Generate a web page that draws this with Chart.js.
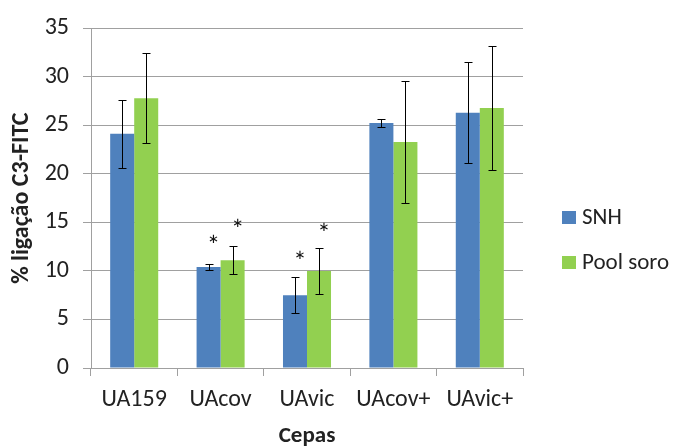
<!DOCTYPE html>
<html>
<head>
<meta charset="utf-8">
<script src="https://cdn.jsdelivr.net/npm/chart.js@4/dist/chart.umd.min.js"></script>
<style>
  html, body { margin: 0; padding: 0; background: #fff; }
  #wrap { width: 676px; height: 447px; position: relative; }
</style>
</head>
<body>
<div id="wrap"><canvas id="c" width="676" height="447"></canvas></div>
<script>
const categories = ['UA159', 'UAcov', 'UAvic', 'UAcov+', 'UAvic+'];
const seriesNames = ['SNH', 'Pool soro'];
const snhValues = [24.15, 10.4, 7.5, 25.25, 26.3];
const snhErrors = [3.5, 0.3, 1.85, 0.4, 5.2];
const poolValues = [27.8, 11.1, 10.0, 23.3, 26.8];
const poolErrors = [4.65, 1.45, 2.4, 6.3, 6.35];
// significance asterisks: y value where each asterisk sits (null = none)
const snhStars = [null, 13.1, 11.4, null, null];
const poolStars = [null, 14.7, 14.3, null, null];
const yTicks = [0, 5, 10, 15, 20, 25, 30, 35];
const colors = ['#4F81BD', '#92D050'];
const FONT = 'Carlito, Calibri, "Open Sans", "DejaVu Sans", sans-serif';

const errors = [snhErrors, poolErrors];
const stars = [snhStars, poolStars];

const overlayPlugin = {
  id: 'overlay',
  afterDatasetsDraw(chart) {
    const ctx = chart.ctx;
    const yScale = chart.scales.y;
    ctx.save();
    chart.data.datasets.forEach((ds, di) => {
      const meta = chart.getDatasetMeta(di);
      meta.data.forEach((bar, i) => {
        const v = ds.data[i];
        const e = errors[di][i];
        const x = Math.round(bar.x) + 0.5;
        const yTop = Math.round(yScale.getPixelForValue(v + e)) + 0.5;
        const yBot = Math.round(yScale.getPixelForValue(v - e)) + 0.5;
        ctx.strokeStyle = '#000';
        ctx.lineWidth = 1;
        ctx.beginPath();
        ctx.moveTo(x, yTop); ctx.lineTo(x, yBot);
        ctx.moveTo(x - 4, yTop); ctx.lineTo(x + 4, yTop);
        ctx.moveTo(x - 4, yBot); ctx.lineTo(x + 4, yBot);
        ctx.stroke();
        const s = stars[di][i];
        if (s !== null) {
          ctx.fillStyle = '#111';
          ctx.font = '27px ' + FONT;
          ctx.textAlign = 'center';
          ctx.textBaseline = 'middle';
          ctx.fillText('*', bar.x + 5, yScale.getPixelForValue(s) + 6);
        }
      });
    });
    ctx.restore();
  },
  afterDraw(chart) {
    const ctx = chart.ctx;
    ctx.save();
    const x0 = chart.chartArea.right + 39;
    const yc = [218, 263];
    chart.data.datasets.forEach((ds, di) => {
      ctx.fillStyle = ds.backgroundColor;
      ctx.fillRect(x0, yc[di] - 7, 14, 13);
      ctx.fillStyle = '#222';
      ctx.font = '23px ' + FONT;
      ctx.textAlign = 'left';
      ctx.textBaseline = 'middle';
      ctx.fillText(ds.label, x0 + 20, yc[di]);
    });
    ctx.restore();
  }
};

new Chart(document.getElementById('c'), {
  type: 'bar',
  data: {
    labels: categories,
    datasets: [
      { label: seriesNames[0], data: snhValues, backgroundColor: colors[0] },
      { label: seriesNames[1], data: poolValues, backgroundColor: colors[1] }
    ]
  },
  options: {
    responsive: false,
    animation: false,
    devicePixelRatio: 1,
    layout: { padding: { top: 25, right: 153, bottom: 0, left: 0 } },
    datasets: { bar: { categoryPercentage: 0.556, barPercentage: 1.0 } },
    plugins: {
      legend: { display: false },
      tooltip: { enabled: false }
    },
    scales: {
      x: {
        grid: { display: true, drawOnChartArea: false, drawTicks: true, tickLength: 8, color: '#a0a0a0', offset: true },
        border: { display: true, color: '#a0a0a0' },
        ticks: { color: '#222', font: { family: FONT, size: 24 }, padding: 10, maxRotation: 0 },
        title: { display: true, text: 'Cepas', color: '#222', font: { family: FONT, size: 23, weight: 'bold' }, padding: { top: 0, bottom: -3 } },
        afterFit(scale) { scale.height = 79; }
      },
      y: {
        min: 0, max: 35,
        afterBuildTicks(scale) { scale.ticks = yTicks.map(v => ({ value: v })); },
        grid: { color: '#a0a0a0', tickLength: 8 },
        border: { display: true, color: '#a0a0a0' },
        ticks: { color: '#222', font: { family: FONT, size: 24 }, padding: 14 },
        title: { display: true, text: '% ligação C3-FITC', color: '#222', font: { family: FONT, size: 24, weight: 'bold' }, padding: { top: 8, bottom: 0 } },
        afterFit(scale) { scale.width = 91; }
      }
    }
  },
  plugins: [overlayPlugin]
});
</script>
</body>
</html>
